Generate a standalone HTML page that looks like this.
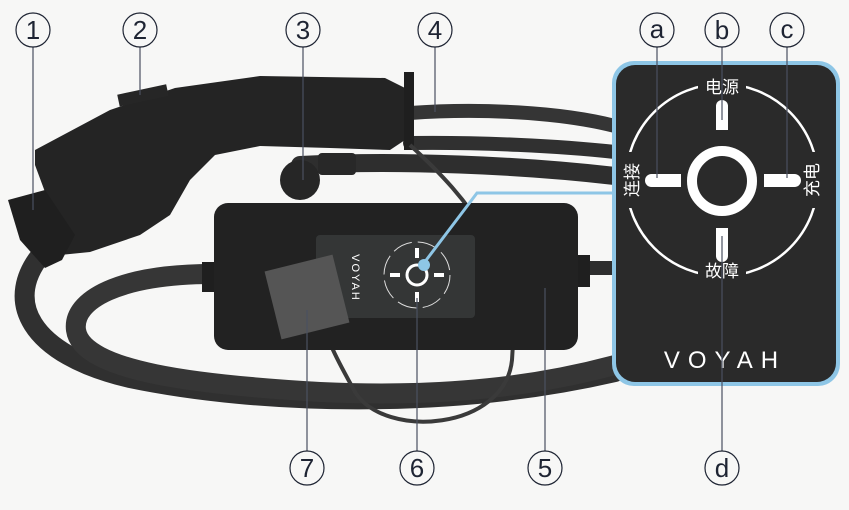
<!DOCTYPE html>
<html><head><meta charset="utf-8"><style>
html,body{margin:0;padding:0;background:#f7f7f6;}
svg{display:block;}
.lab{font-family:"Liberation Sans",sans-serif;font-size:26px;fill:#1e2433;text-anchor:middle;}
.cn{font-family:"Liberation Sans","Noto Sans CJK SC",sans-serif;fill:#fff;text-anchor:middle;}
</style></head><body>
<svg width="849" height="510" viewBox="0 0 849 510" xmlns="http://www.w3.org/2000/svg">
<rect width="849" height="510" fill="#f7f7f6"/>
<g fill="none" stroke-linecap="round">
<path d="M410 113 C480 108 560 112 615 126" stroke="#353535" stroke-width="14"/>
<path d="M410 143 C480 142 560 146 615 152" stroke="#303030" stroke-width="14"/>
<path d="M300 165 C400 160 520 165 615 176" stroke="#2e2e2e" stroke-width="18"/>
<path d="M45 250 C0 300 30 355 130 378 C260 405 450 410 615 372" stroke="#303030" stroke-width="20"/>
<path d="M212 274 C120 274 72 300 76 330 C82 372 200 385 320 392 C450 398 540 385 615 365" stroke="#363636" stroke-width="20"/>
<path d="M578 268 L615 268" stroke="#2e2e2e" stroke-width="14"/>
</g>
<polygon points="35,150 110,110 175,88 260,76 385,78 405,88 405,140 390,150 330,148 260,146 215,155 190,180 170,215 140,235 90,252 60,255 48,200 35,165" fill="#242424"/>
<polygon points="8,200 45,190 75,235 62,260 45,268 20,240" fill="#1f1f1f"/>
<rect x="118" y="90" width="50" height="12" fill="#262626" transform="rotate(-12 140 96)"/>
<rect x="404" y="72" width="10" height="78" fill="#1f1f1f"/>
<circle cx="300" cy="180" r="20" fill="#262626"/>
<rect x="318" y="153" width="38" height="22" rx="4" fill="#282828"/>
<path d="M410 145 C470 200 520 260 512 360 C505 430 385 440 355 392 C335 355 322 335 330 320" fill="none" stroke="#3a3a3a" stroke-width="4"/>
<rect x="202" y="262" width="14" height="30" fill="#1f1f1f"/>
<rect x="576" y="255" width="14" height="32" fill="#1f1f1f"/>
<rect x="214" y="203" width="364" height="147" rx="14" fill="#222"/>
<rect x="316" y="235" width="159" height="83" rx="4" fill="#343636"/>
<rect x="272" y="262" width="70" height="70" fill="#555" transform="rotate(-14 307 297)"/>
<text x="352" y="278" class="cn" font-size="11" transform="rotate(90 352 278)" letter-spacing="2">VOYAH</text>
<circle cx="417" cy="275" r="33" fill="none" stroke="#ddd" stroke-width="1" stroke-dasharray="20 6"/>
<circle cx="417" cy="275" r="10" fill="none" stroke="#fff" stroke-width="3"/>
<rect x="415" y="248" width="4" height="10" fill="#fff"/><rect x="415" y="292" width="4" height="10" fill="#fff"/>
<rect x="390" y="273" width="10" height="4" fill="#fff"/><rect x="434" y="273" width="10" height="4" fill="#fff"/>
<polyline points="614,193 477,193 424,263" fill="none" stroke="#8ec6e6" stroke-width="3"/>
<circle cx="424" cy="265" r="6" fill="#8ec6e6"/>
<rect x="612" y="61" width="228" height="325" rx="22" fill="#8ec6e6"/>
<rect x="616" y="65" width="220" height="317" rx="19" fill="#2a2a2a"/>
<circle cx="722" cy="180" r="96" fill="none" stroke="#fff" stroke-width="2.5"/>
<rect x="698" y="72" width="48" height="26" fill="#2a2a2a"/>
<rect x="698" y="260" width="48" height="26" fill="#2a2a2a"/>
<rect x="618" y="152" width="26" height="56" fill="#2a2a2a"/>
<rect x="800" y="152" width="26" height="56" fill="#2a2a2a"/>
<text x="722" y="93" class="cn" font-size="17">电源</text>
<text x="722" y="277" class="cn" font-size="17">故障</text>
<text x="632" y="186" class="cn" font-size="17" transform="rotate(-90 632 180)">连接</text>
<text x="812" y="186" class="cn" font-size="17" transform="rotate(-90 812 180)">充电</text>
<circle cx="722" cy="181" r="30" fill="none" stroke="#fff" stroke-width="10"/>
<rect x="716" y="100" width="12" height="30" rx="6" fill="#fff"/><rect x="716" y="112" width="12" height="18" fill="#fff"/>
<rect x="716" y="228" width="12" height="34" rx="6" fill="#fff"/><rect x="716" y="228" width="12" height="18" fill="#fff"/>
<rect x="645" y="174" width="36" height="13" rx="6.5" fill="#fff"/><rect x="662" y="174" width="19" height="13" fill="#fff"/>
<rect x="764" y="174" width="37" height="13" rx="6.5" fill="#fff"/><rect x="764" y="174" width="19" height="13" fill="#fff"/>
<text x="725" y="368" class="cn" font-size="24" letter-spacing="8">VOYAH</text>
<g stroke="#4a5060" stroke-width="1.2">
<line x1="33" y1="47" x2="33" y2="210"/>
<line x1="140" y1="47" x2="140" y2="95"/>
<line x1="303" y1="47" x2="303" y2="180"/>
<line x1="435" y1="47" x2="435" y2="112"/>
<line x1="657" y1="47" x2="657" y2="178"/>
<line x1="722" y1="47" x2="722" y2="120"/>
<line x1="787" y1="47" x2="787" y2="178"/>
<line x1="722" y1="451" x2="722" y2="236"/>
<line x1="545" y1="451" x2="545" y2="288"/>
<line x1="417" y1="451" x2="417" y2="298"/>
<line x1="307" y1="451" x2="307" y2="310"/>
</g>
<g fill="#f7f7f6" stroke="#1e2433" stroke-width="1.2">
<circle cx="33" cy="30" r="17"/><circle cx="140" cy="30" r="17"/><circle cx="303" cy="30" r="17"/><circle cx="435" cy="30" r="17"/>
<circle cx="657" cy="30" r="17"/><circle cx="722" cy="30" r="17"/><circle cx="787" cy="30" r="17"/>
<circle cx="307" cy="468" r="17"/><circle cx="417" cy="468" r="17"/><circle cx="545" cy="468" r="17"/><circle cx="722" cy="468" r="17"/>
</g>
<text x="33" y="39" class="lab">1</text><text x="140" y="39" class="lab">2</text><text x="303" y="39" class="lab">3</text><text x="435" y="39" class="lab">4</text>
<text x="657" y="38" class="lab">a</text><text x="722" y="39" class="lab">b</text><text x="787" y="38" class="lab">c</text>
<text x="307" y="477" class="lab">7</text><text x="417" y="477" class="lab">6</text><text x="545" y="477" class="lab">5</text><text x="722" y="477" class="lab">d</text>
</svg>
</body></html>
